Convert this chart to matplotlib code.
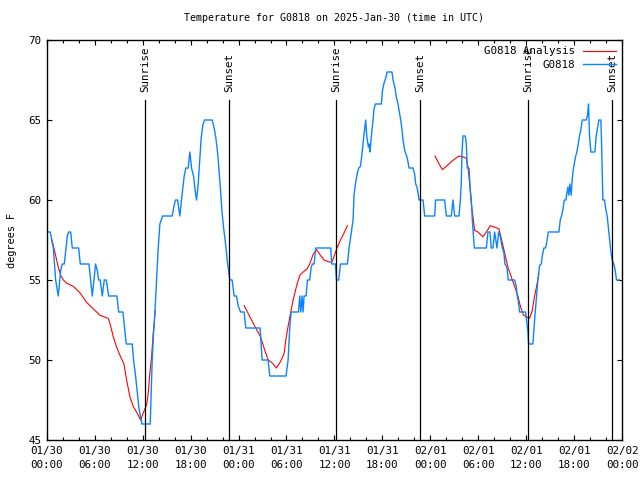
import matplotlib
matplotlib.use("Agg")
import matplotlib.pyplot as plt
import numpy as np

# hours since 2025-01-30 00:00 UTC, temperature in F
obs_hours = [
    0.2, 0.45, 0.7, 0.83, 1.12, 1.45, 1.75, 1.95, 2.2, 2.41, 2.58, 2.75, 3.0, 3.2, 4.0, 4.2,
    5.29, 5.5, 5.7, 5.91, 6.12, 6.33, 6.5, 6.7, 6.95, 7.2, 7.45, 7.75, 8.79, 9.0, 9.54, 9.75,
    9.95, 10.7, 10.87, 11.12, 11.33, 11.54, 11.91, 12.95, 13.08, 13.2, 13.37, 13.54, 13.75, 13.95,
    14.16, 14.5, 15.7, 15.91, 16.12, 16.37, 16.66, 16.95, 17.2, 17.41, 17.7, 17.91, 18.12, 18.37,
    18.62, 18.75, 18.95, 19.16, 19.33, 19.54, 19.75, 20.7, 20.91, 21.16, 21.37, 21.54, 21.75,
    21.91, 22.12, 22.37, 22.58, 22.91, 23.2, 23.45, 23.75, 23.95, 24.25, 24.7, 24.91, 26.7,
    26.83, 26.95, 27.7, 27.91, 29.95, 30.2, 30.41, 30.58, 31.5, 31.66, 31.79, 31.95, 32.08, 32.2,
    32.45, 32.62, 32.91, 33.08, 33.25, 33.45, 33.66, 35.54, 35.66, 36.12, 36.25, 36.54, 36.75,
    37.62, 37.83, 38.12, 38.33, 38.45, 38.62, 38.87, 39.04, 39.25, 39.45, 39.62, 39.83, 39.91,
    40.04, 40.25, 40.37, 40.45, 40.62, 40.83, 40.95, 41.12, 41.87, 42.0, 42.2, 42.41, 42.58,
    43.2, 43.33, 43.58, 43.75, 43.95, 44.16, 44.29, 44.45, 44.58, 44.79, 45.0, 45.16, 45.33,
    45.83, 46.04, 46.16, 46.33, 46.5, 46.58, 47.08, 47.29, 48.54, 48.66, 49.79, 50.0, 50.62,
    50.83, 51.04, 51.58, 51.75, 51.87, 51.95, 52.08, 52.37, 52.5, 52.62, 52.83, 53.0, 53.12,
    53.25, 53.37, 53.5, 55.0, 55.2, 55.45, 55.62, 55.83, 56.04, 56.33, 56.54, 56.75, 57.0, 57.2,
    57.33, 57.58, 57.75, 58.54, 58.75, 58.87, 59.0, 59.16, 59.91, 60.08, 60.2, 60.29, 60.83,
    61.04, 61.25, 61.45, 61.66, 61.87, 62.0, 62.2, 62.41, 62.58, 62.75, 64.08, 64.25, 64.41,
    64.58, 64.75, 64.95, 65.2, 65.33, 65.45, 65.62, 65.75, 65.91, 66.16, 66.33, 66.5, 66.66,
    66.83, 67.0, 67.5, 67.66, 67.75, 67.79, 67.91, 68.08, 68.58, 68.75, 68.95, 69.08, 69.33,
    69.41, 69.5, 69.58, 69.79, 69.95, 70.12, 70.29, 70.41, 70.58, 70.75, 70.95, 71.12, 71.29, 71.66,
]
obs_temp = [
    58, 58, 57.3, 57, 55, 54, 55.6, 56, 56, 57, 57.75, 58, 58, 57, 57, 56,
    56, 55, 54, 55, 56, 55.6, 55, 55, 54, 55, 55, 54, 54, 53, 53, 52,
    51, 51, 50, 49, 48, 47, 46, 46, 48, 50, 51.7, 53, 55, 57,
    58.5, 59, 59, 59.6, 60, 60, 59, 60.4, 61.5, 62, 62, 63, 62, 61.5,
    60.4, 60, 61, 62.6, 63.9, 64.7, 65, 65, 64.6, 63.9, 63, 62, 60.6,
    59.4, 58.3, 57.3, 56.25, 55, 55, 54, 54, 53.4, 53, 53, 52, 52,
    51, 50, 50, 49, 49, 50, 52, 53, 53, 54, 53, 54, 53, 54,
    54, 55, 55, 55.8, 56, 56, 57, 57, 56, 56, 55, 55, 56,
    56, 57, 58, 58.75, 60.3, 61, 61.7, 62, 62.1, 62.9, 63.75, 64.7, 65,
    64, 63.3, 63.5, 63, 64, 65, 65.7, 66, 66, 66.8, 67.3, 67.6, 68,
    68, 67.5, 67, 66.4, 66, 65.4, 65, 64.4, 63.75, 63.1, 62.8, 62.5, 62,
    62, 61.6, 61, 60.8, 60.3, 60, 60, 59, 59, 60, 60, 59, 59,
    60, 59, 59, 60, 61.1, 62.9, 64, 64, 63.5, 62, 62, 60.6, 60,
    58.75, 57.9, 57, 57, 58, 58, 57, 57, 58, 57, 58, 57.7, 57, 56.7,
    56, 55.8, 55, 55, 54.6, 54, 53.7, 53, 53, 52.3, 51.8, 51, 51,
    52.5, 53.75, 55, 55.9, 56, 56.5, 57, 57, 57.4, 58, 58, 58.75, 59,
    59.4, 60, 60, 60.8, 60.3, 61, 60.3, 61.35, 62, 62.7, 63, 63.5, 64,
    64.4, 65, 65, 65.3, 65.8, 66, 64, 63, 63, 64, 64.6, 65, 65,
    63.75, 61.7, 60, 60, 59.4, 59, 58.2, 57.6, 56.8, 56.25, 56, 55.6, 55, 55,
]

# analysis, three separate pieces
ana1_hours = [0.66, 1.04, 1.45, 1.75, 2.08, 2.5, 2.91, 3.33, 3.75, 4.16, 5.0, 5.83, 6.66, 7.7,
              7.91, 8.33, 8.75, 9.16, 9.66, 10.0, 10.41, 10.83, 11.33, 11.75, 12.08, 12.5, 12.7,
              12.91, 13.12, 13.33, 13.45, 13.58]
ana1_temp = [57.5, 56.7, 55.8, 55.3, 55.0, 54.8, 54.7, 54.6, 54.4, 54.2, 53.6, 53.2, 52.8, 52.6,
             52.3, 51.45, 50.8, 50.3, 49.75, 48.75, 47.7, 47.1, 46.67, 46.25, 46.7, 47.2, 47.9,
             49.2, 50.2, 51.7, 52.3, 53.1]
ana2_hours = [24.7, 25.83, 26.75, 27.29, 27.7, 28.25, 28.75, 29.25, 29.7, 29.91, 30.2, 30.5, 30.83,
              31.25, 31.66, 32.08, 32.58, 32.91, 33.33, 33.75, 34.16, 34.7, 35.2, 35.62, 35.83,
              36.25, 36.66, 37.16, 37.62]
ana2_temp = [53.4, 52.3, 51.45, 50.6, 50.0, 49.8, 49.5, 49.9, 50.4, 51.25, 52.1, 52.9, 53.75,
             54.6, 55.3, 55.5, 55.7, 56.0, 56.6, 56.9, 56.6, 56.25, 56.15, 56.1, 56.3,
             56.9, 57.4, 57.9, 58.4]
ana3_hours = [48.58, 49.04, 49.5, 50.0, 50.62, 51.16, 51.58, 52.08, 52.5, 52.7, 52.91, 53.12, 53.33,
              53.54, 53.95, 54.58, 55.0, 55.5, 56.04, 56.58, 56.87, 57.29, 57.7, 58.12, 58.54,
              58.95, 59.29, 59.66, 60.0, 60.41, 60.75, 61.04, 61.33, 61.58]
ana3_temp = [62.75, 62.3, 61.9, 62.1, 62.4, 62.6, 62.75, 62.7, 62.6, 62.1, 61.05, 59.8, 58.96,
             58.1, 58.0, 57.7, 58.0, 58.4, 58.3, 58.2, 57.6, 56.7, 55.8, 55.2, 54.6,
             54.0, 53.3, 52.8, 52.7, 52.6, 53.1, 54.0, 54.7, 55.4]

sunrise_hours = [12.3, 36.2, 60.2]
sunset_hours = [22.8, 46.7, 70.7]

tick_hours = list(range(0, 73, 6))
tick_labels = ["01/30\n00:00", "01/30\n06:00", "01/30\n12:00", "01/30\n18:00",
               "01/31\n00:00", "01/31\n06:00", "01/31\n12:00", "01/31\n18:00",
               "02/01\n00:00", "02/01\n06:00", "02/01\n12:00", "02/01\n18:00",
               "02/02\n00:00"]

plt.rcParams["font.family"] = ["DejaVu Sans Mono"]
plt.rcParams["font.size"] = 7.8

fig = plt.figure(figsize=(6.4, 4.8), dpi=100)
ax = fig.add_axes([46.7 / 640, 40 / 480, 575.5 / 640, 400 / 480])

red = "#ff0000"
blue = "#0a84ff"
ax.plot(ana1_hours, ana1_temp, color=red, lw=0.8, label="G0818 Analysis")
ax.plot(ana2_hours, ana2_temp, color=red, lw=0.8)
ax.plot(ana3_hours, ana3_temp, color=red, lw=0.8)
ax.plot(obs_hours, obs_temp, color=blue, lw=1.0, label="G0818")

for h in sunrise_hours:
    ax.plot([h, h], [45, 66.25], color="black", lw=0.9)
    ax.text(h, 66.75, "Sunrise", rotation=90, ha="center", va="bottom")
for h in sunset_hours:
    ax.plot([h, h], [45, 66.25], color="black", lw=0.9)
    ax.text(h, 66.75, "Sunset", rotation=90, ha="center", va="bottom")

ax.set_xlim(0, 72)
ax.set_ylim(45, 70)
ax.set_xticks(tick_hours)
ax.set_xticklabels(tick_labels, linespacing=1.5)
ax.set_xticks(range(0, 73, 2), minor=True)
ax.set_yticks(range(45, 71, 5))
ax.tick_params(which="both", direction="in", top=True, right=True, width=0.8)
ax.tick_params(which="major", length=3.5, pad=4)
ax.tick_params(which="minor", length=2)
ax.set_ylabel("degrees F", labelpad=8, fontsize=7.4)
ax.set_title("Temperature for G0818 on 2025-Jan-30 (time in UTC)", pad=14, fontsize=7.2)
for s in ax.spines.values():
    s.set_linewidth(1.0)

ax.legend(loc="upper right", frameon=False, markerfirst=False, handlelength=3.0,
          borderaxespad=0.4, handletextpad=0.8, labelspacing=0.3, borderpad=0.2)

fig.savefig("out.png", dpi=100)
